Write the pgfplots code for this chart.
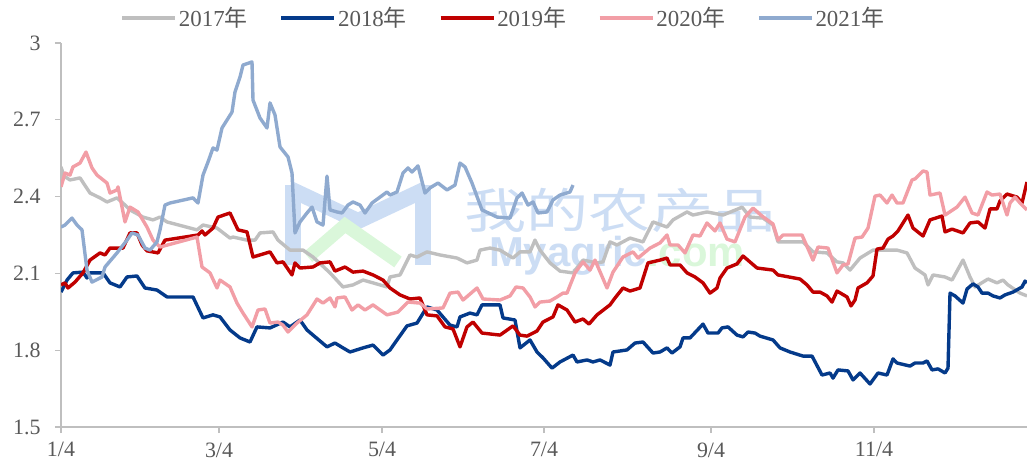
\documentclass[border=0pt]{standalone}
\usepackage{fontspec}
\usepackage{pgfplots}
\pgfplotsset{compat=1.18}
\setmainfont{Liberation Serif}
\newfontfamily\cjk{Noto Sans CJK SC}
\newfontfamily\wsans{Liberation Sans}
\definecolor{c17}{HTML}{BFBFBF}
\definecolor{c18}{HTML}{043A8A}
\definecolor{c19}{HTML}{C00000}
\definecolor{c20}{HTML}{F29EA6}
\definecolor{c21}{HTML}{8FAACF}
\definecolor{axgray}{HTML}{BFBFBF}
\definecolor{txtgray}{HTML}{595959}
\definecolor{wmblue}{HTML}{CCDDF4}
\definecolor{wmgreen}{HTML}{DAF7DA}

\begin{document}
\begin{tikzpicture}
\useasboundingbox (0,0) rectangle (1027bp,469bp);
% watermark logo and text
\begin{scope}[line width=16bp, line join=miter]
\draw[wmblue] (293bp,204bp) -- (293bp,284bp);
\draw[wmblue] (423bp,204bp) -- (423bp,284bp);
\draw[wmblue] (290bp,280bp) -- (358bp,248bp) -- (426bp,280bp);
\draw[wmgreen, line width=13bp] (308bp,212bp) -- (345bp,244bp) -- (398bp,207bp);
\end{scope}
\node[text=wmblue, font=\cjk\fontsize{48}{50}\selectfont, xscale=1.3, inner sep=0pt] at (620bp,259bp) {我的农产品};
\node[font=\wsans\bfseries\fontsize{42}{44}\selectfont, inner sep=0pt] at (617bp,213bp) {\textcolor{wmblue}{Myagric}\textcolor{wmgreen}{.com}};

\begin{axis}[
  at={(61bp,42bp)}, anchor=south west,
  scale only axis, width=966bp, height=384bp,
  xmin=61, xmax=1027, ymin=1.5, ymax=3,
  axis x line*=bottom, axis y line*=left,
  axis line style={draw=axgray, line width=1.3bp, -},
  xtick={61,219,382,544,711,874},
  xticklabels={1/4,3/4,5/4,7/4,9/4,11/4},
  ytick={1.5,1.8,2.1,2.4,2.7,3},
  yticklabels={1.5,1.8,2.1,2.4,2.7,3},
  tick align=outside, major tick length=6bp,
  tick style={draw=axgray, line width=1.3bp},
  ticklabel style={font=\fontsize{22}{25}\selectfont, text=txtgray},
  /pgf/number format/assume math mode=true,
  yticklabel style={xshift=-11bp},
  xticklabel style={yshift=-6bp},
  every axis plot/.append style={line width=3.4bp, line join=round},
  legend columns=5,
  legend style={draw=none, fill=none, at={(0.458,1.065)}, anchor=center,
    font=\fontsize{23}{26}\selectfont, text=txtgray,
    /tikz/every odd column/.append style={column sep=0bp},
    /tikz/every even column/.append style={column sep=30bp}},
  legend image code/.code={\draw[#1] (0bp,0bp) -- (53bp,0bp);},
]
\addplot[c17] coordinates {
(61,2.516)(64,2.480)(70,2.465)(80,2.473)(90,2.414)(100,2.395)(107,2.379)(117,2.395)(125,2.367)(130,2.348)
(143,2.320)(153,2.309)(160,2.320)(167,2.301)(197,2.270)(203,2.289)(217,2.277)(230,2.238)(233,2.242)(247,2.230)
(255,2.230)(260,2.258)(273,2.262)(278,2.230)(290,2.191)(303,2.191)(313,2.164)(330,2.102)(343,2.047)(353,2.055)
(363,2.074)(373,2.063)(387,2.047)(390,2.086)(400,2.094)(410,2.172)(417,2.164)(427,2.184)(440,2.172)(457,2.160)
(467,2.141)(477,2.152)(480,2.191)(490,2.199)(500,2.191)(513,2.160)(520,2.184)(530,2.184)(535,2.230)(540,2.191)
(550,2.141)(560,2.109)(573,2.102)(583,2.152)(597,2.141)(603,2.145)(610,2.223)(617,2.211)(630,2.238)(643,2.223)
(653,2.301)(667,2.281)(673,2.309)(687,2.340)(693,2.328)(707,2.340)(723,2.328)(740,2.355)(742,2.359)(750,2.320)
(763,2.316)(773,2.289)(778,2.223)(803,2.223)(813,2.184)(827,2.180)(837,2.145)(843,2.141)(850,2.113)(860,2.160)
(873,2.191)(897,2.191)(907,2.180)(915,2.121)(925,2.094)(928,2.055)(933,2.094)(945,2.086)(952,2.074)(963,2.152)
(970,2.086)(975,2.047)(988,2.078)(997,2.063)(1003,2.074)(1008,2.055)(1020,2.023)(1027,2.012)
};
\addlegendentry{2017{\cjk 年}}
\addplot[c18] coordinates {
(61,2.027)(67,2.074)(73,2.102)(83,2.105)(87,2.082)(90,2.102)(103,2.102)(110,2.063)(120,2.047)(127,2.086)
(137,2.090)(145,2.043)(157,2.035)(167,2.008)(193,2.008)(203,1.926)(213,1.938)(220,1.930)(230,1.879)(240,1.848)
(250,1.832)(257,1.891)(270,1.887)(283,1.910)(290,1.891)(300,1.918)(307,1.879)(313,1.859)(327,1.813)(335,1.828)
(343,1.809)(350,1.793)(363,1.809)(373,1.820)(383,1.781)(390,1.801)(397,1.840)(407,1.895)(417,1.906)(427,1.969)
(437,1.957)(450,1.898)(457,1.891)(460,1.930)(470,1.945)(477,1.938)(482,1.977)(500,1.977)(503,1.926)(515,1.918)
(520,1.809)(530,1.840)(537,1.793)(543,1.770)(552,1.730)(560,1.754)(573,1.781)(577,1.754)(587,1.762)(593,1.754)
(600,1.762)(610,1.742)(613,1.793)(627,1.801)(635,1.828)(643,1.832)(653,1.789)(660,1.793)(667,1.809)(672,1.789)
(680,1.813)(683,1.848)(690,1.848)(703,1.902)(708,1.867)(718,1.867)(722,1.887)(728,1.891)(737,1.859)(743,1.852)
(748,1.871)(755,1.867)(760,1.855)(773,1.840)(780,1.809)(790,1.793)(803,1.777)(812,1.777)(822,1.703)(830,1.711)
(833,1.691)(838,1.723)(848,1.719)(853,1.684)(860,1.711)(870,1.668)(878,1.711)(887,1.703)(893,1.766)(897,1.750)
(910,1.738)(915,1.750)(923,1.750)(927,1.758)(932,1.723)(938,1.727)(945,1.711)(948,1.730)(950,2.023)(955,2.012)
(963,1.984)(967,2.039)(973,2.059)(978,2.047)(982,2.023)(988,2.023)(993,2.012)(1000,2.004)(1005,2.016)(1013,2.027)
(1022,2.047)(1025,2.070)(1027,2.063)
};
\addlegendentry{2018{\cjk 年}}
\addplot[c19] coordinates {
(61,2.055)(65,2.063)(68,2.043)(75,2.066)(83,2.102)(90,2.152)(100,2.180)(105,2.172)(110,2.199)(123,2.199)
(130,2.258)(137,2.258)(142,2.211)(147,2.188)(158,2.180)(165,2.230)(198,2.250)(202,2.266)(205,2.250)(213,2.277)
(218,2.320)(230,2.336)(238,2.270)(247,2.262)(253,2.164)(270,2.184)(277,2.141)(283,2.145)(292,2.094)(295,2.141)
(300,2.121)(313,2.125)(320,2.141)(330,2.145)(335,2.109)(345,2.125)(353,2.105)(363,2.109)(373,2.094)(383,2.074)
(390,2.043)(400,2.016)(410,2.000)(420,2.004)(427,1.938)(437,1.934)(445,1.891)(453,1.883)(460,1.813)(467,1.891)
(473,1.910)(482,1.867)(500,1.859)(513,1.895)(520,1.859)(527,1.855)(537,1.875)(543,1.910)(553,1.930)(558,1.977)
(567,1.957)(575,1.910)(583,1.922)(589,1.902)(597,1.938)(610,1.977)(615,2.004)(623,2.043)(630,2.031)(640,2.043)
(648,2.141)(660,2.152)(667,2.160)(670,2.133)(680,2.133)(687,2.102)(695,2.086)(703,2.063)(710,2.023)(717,2.043)
(720,2.082)(727,2.121)(737,2.137)(743,2.168)(757,2.121)(773,2.113)(778,2.094)(800,2.078)(807,2.055)(813,2.027)
(820,2.027)(827,2.012)(832,1.988)(837,2.031)(847,2.008)(851,1.973)(855,1.996)(858,2.043)(867,2.063)(873,2.090)
(877,2.195)(883,2.199)(888,2.234)(893,2.246)(898,2.266)(908,2.328)(913,2.277)(923,2.246)(930,2.309)(942,2.324)
(945,2.262)(952,2.273)(963,2.258)(970,2.297)(978,2.301)(985,2.277)(990,2.352)(997,2.352)(1000,2.383)(1007,2.410)
(1017,2.398)(1022,2.375)(1027,2.457)
};
\addlegendentry{2019{\cjk 年}}
\addplot[c20] coordinates {
(61,2.438)(65,2.492)(70,2.484)(73,2.516)(80,2.531)(86,2.574)(92,2.512)(97,2.484)(107,2.453)(110,2.414)
(117,2.426)(118,2.438)(125,2.301)(130,2.359)(138,2.340)(147,2.281)(153,2.230)(160,2.203)(197,2.242)(202,2.125)
(210,2.102)(217,2.043)(220,2.074)(230,2.047)(237,1.984)(243,1.945)(252,1.891)(258,1.957)(265,1.961)(270,1.906)
(278,1.910)(283,1.898)(288,1.871)(297,1.906)(307,1.938)(317,2.000)(323,1.984)(330,2.004)(335,1.969)(337,2.004)
(345,2.008)(352,1.957)(358,1.977)(365,1.957)(373,1.977)(387,1.938)(398,1.949)(408,1.988)(420,1.984)(427,1.961)
(443,1.965)(450,2.023)(458,2.027)(463,1.996)(477,2.043)(483,2.000)(500,1.996)(510,2.012)(516,2.047)(523,2.043)
(530,2.008)(535,1.969)(540,1.988)(550,1.992)(557,2.008)(563,2.023)(567,2.023)(575,2.102)(583,2.145)(590,2.113)
(595,2.152)(607,2.043)(613,2.105)(623,2.164)(633,2.184)(638,2.160)(650,2.199)(660,2.219)(667,2.250)(670,2.211)
(678,2.211)(685,2.180)(693,2.250)(700,2.246)(707,2.297)(715,2.266)(720,2.297)(727,2.234)(735,2.223)(745,2.320)
(753,2.355)(762,2.324)(773,2.293)(778,2.230)(783,2.250)(802,2.250)(813,2.152)(818,2.203)(828,2.199)(837,2.102)
(843,2.133)(848,2.137)(855,2.238)(862,2.242)(868,2.277)(875,2.402)(880,2.406)(887,2.375)(892,2.406)(897,2.375)
(903,2.375)(912,2.465)(915,2.469)(923,2.500)(927,2.496)(930,2.406)(940,2.414)(945,2.328)(957,2.359)(965,2.398)
(972,2.336)(978,2.328)(987,2.418)(992,2.406)(1000,2.410)(1007,2.328)(1010,2.375)(1015,2.398)(1020,2.375)(1027,2.348)
};
\addlegendentry{2020{\cjk 年}}
\addplot[c21] coordinates {
(61,2.281)(65,2.289)(68,2.301)(72,2.316)(77,2.289)(82,2.270)(87,2.113)(92,2.066)(102,2.086)(105,2.125)
(117,2.180)(127,2.230)(132,2.258)(138,2.250)(145,2.199)(150,2.191)(157,2.223)(160,2.270)(165,2.367)(170,2.375)
(193,2.395)(198,2.375)(203,2.484)(208,2.535)(213,2.590)(217,2.582)(222,2.668)(227,2.699)(232,2.730)(235,2.809)
(240,2.867)(243,2.914)(252,2.926)(253,2.777)(260,2.707)(267,2.668)(270,2.766)(275,2.719)(280,2.594)(288,2.555)
(292,2.492)(295,2.258)(300,2.301)(307,2.336)(312,2.359)(317,2.301)(323,2.289)(327,2.480)(330,2.348)(337,2.340)
(342,2.336)(348,2.367)(353,2.379)(360,2.367)(365,2.336)(372,2.375)(380,2.398)(387,2.418)(390,2.406)(397,2.418)
(403,2.492)(408,2.512)(412,2.496)(418,2.520)(425,2.414)(430,2.434)(438,2.453)(447,2.426)(455,2.445)(460,2.531)
(465,2.516)(472,2.453)(482,2.348)(497,2.320)(510,2.316)(517,2.395)(522,2.414)(528,2.367)(533,2.379)(538,2.336)
(547,2.340)(553,2.387)(560,2.406)(570,2.418)(573,2.445)
};
\addlegendentry{2021{\cjk 年}}
\end{axis}
\end{tikzpicture}
\end{document}
